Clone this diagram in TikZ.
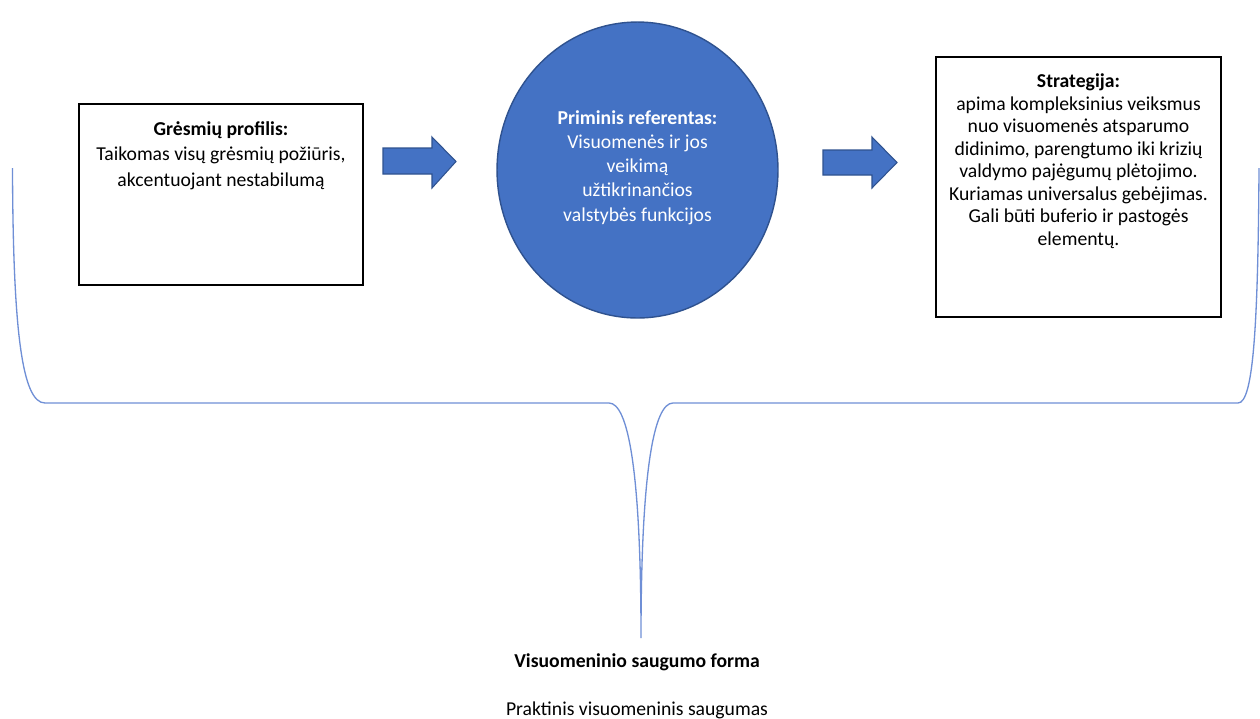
\documentclass[tikz,border=0pt]{standalone}
\usepackage{fontspec}
\setmainfont{Carlito}
\usetikzlibrary{shapes.geometric}
\definecolor{officeblue}{HTML}{4472C4}
\definecolor{officeedge}{HTML}{2F528F}
\definecolor{bracelight}{HTML}{6F8FD6}
\begin{document}
\begin{tikzpicture}[x=0.02cm,y=-0.02cm,
  framebox/.style={draw=black,line width=1.1pt,fill=white,rectangle,inner sep=0pt},
  boxtext/.style={align=center,inner sep=0pt,text=black,font=\fontsize{11.2}{12.8}\selectfont},
  roundtext/.style={align=center,inner sep=0pt,text=white,font=\fontsize{11.2}{13.8}\selectfont},
  blockarrow/.style={fill=officeblue,draw=officeedge,line width=0.6pt,line join=miter},
  bracket/.style={draw=bracelight,line width=0.75pt}]
\clip (0,0) rectangle (1260,718);
\fill[white] (0,0) rectangle (1260,718);

% three stages
\node[framebox,minimum width=5.68cm,minimum height=3.62cm] (threat) at (221,194.5) {};
\node[ellipse,fill=officeblue,draw=officeedge,line width=0.8pt,
      minimum width=5.62cm,minimum height=5.92cm,inner sep=0pt] (referent) at (637.5,170) {};
\node[framebox,minimum width=5.7cm,minimum height=5.2cm] (strategy) at (1078.5,187) {};

% texts (the base anchor sits on the last line)
\node[boxtext,anchor=base,font=\fontsize{11.2}{14.5}\selectfont] (threattext) at (221,186)
  {\textbf{Grėsmių profilis:}\\Taikomas visų grėsmių požiūris,\\akcentuojant nestabilumą};
\node[roundtext,anchor=base] (referenttext) at (637.5,221)
  {\textbf{Priminis referentas:}\\Visuomenės ir jos\\veikimą\\užtikrinančios\\valstybės funkcijos};
\node[boxtext,anchor=base] (strategytext) at (1078.5,245)
  {\textbf{Strategija:}\\apima kompleksinius veiksmus\\nuo visuomenės atsparumo\\didinimo, parengtumo iki krizių\\valdymo pajėgumų plėtojimo.\\Kuriamas universalus gebėjimas.\\Gali būti buferio ir pastogės\\elementų.};

% block arrows between the stages
\draw[blockarrow] (383,148) -- (432,148) -- (432,137) -- (456,161.5) -- (432,188) -- (432,174) -- (383,174) -- cycle;
\draw[blockarrow] (823,150) -- (872,150) -- (872,137) -- (897,162.5) -- (872,188) -- (872,175) -- (823,175) -- cycle;

% brace gathering the three stages
\coordinate (braceleft) at (12.5,168);
\coordinate (bracetip) at (641,638);
\coordinate (braceright) at (1259,168);
\draw[bracket] (braceleft) .. controls (13,330) and (22,403) .. (45,403) -- (609,403)
  .. controls (628,403) and (641,470) .. (bracetip)
  .. controls (641,470) and (654,403) .. (673,403) -- (1238,403)
  .. controls (1253,403) and (1258,330) .. (braceright);

% result under the brace
\node[boxtext,anchor=base] (formtitle) at (637,667) {\textbf{Visuomeninio saugumo forma}};
\node[boxtext,anchor=base] (formtext) at (637,715) {Praktinis visuomeninis saugumas};
\end{tikzpicture}
\end{document}
